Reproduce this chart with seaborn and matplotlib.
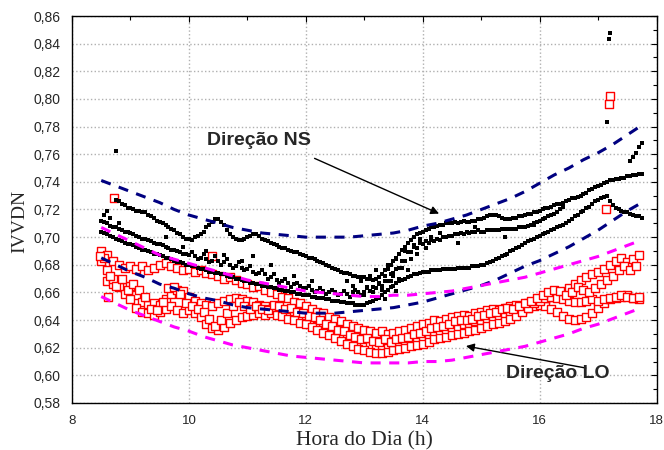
import numpy as np
import pandas as pd
import matplotlib
matplotlib.use("Agg")
import matplotlib.pyplot as plt
from matplotlib.ticker import MultipleLocator, FuncFormatter
import seaborn as sns

# IVVDN x 1000, direcao NS (pontos pretos), uma leitura a cada 3 min
ns1_start = 8.75
ns1 = [727, 726, 724, 723, 721,
       721, 720, 719, 719, 718, 718, 716, 715, 714, 712, 711, 710, 709, 707, 706, 705, 703, 702, 700, 699,
       699, 698, 700, 701, 702, 704, 707, 709, 711, 713, 713, 711, 709, 705, 702, 700, 699, 698, 698, 699,
       700, 701, 702, 702, 701, 699, 698, 697, 696, 695, 694, 693, 692, 692, 691, 690, 689, 689, 688, 687,
       686, 685, 685, 684, 683, 682, 681, 680, 679, 678, 677, 676, 675, 674, 674, 673, 672, 672, 671, 671,
       671, 670, 670, 669, 670, 671, 673, 676, 677, 680, 683, 685, 688, 691, 693, 696, 698, 700, 702, 703,
       704, 705, 706, 707, 707, 708, 709, 709, 710, 710, 710, 711, 710, 711, 712, 711, 711, 712, 712, 713,
       713, 714, 715, 716, 716, 716, 715, 714, 713, 713, 713, 714, 714, 715, 715, 716, 717, 717, 718, 718,
       719, 720, 721, 721, 722, 723, 724, 724, 725, 726, 727, 728, 728, 729, 730, 731, 732, 734, 735, 736,
       737, 738, 739, 740, 741, 741, 742, 742, 743, 743, 744, 744, 745, 745, 746, 746]
ns2_start = 8.5
ns2 = [712, 711, 710, 708, 707, 707, 706, 705, 704, 704,
       703, 702, 701, 700, 699, 699, 698, 697, 696, 695, 695, 694, 693, 692, 691, 691, 690, 689, 688, 688,
       687, 689, 686, 684, 685, 688, 684, 682, 683, 686, 683, 680, 682, 684, 680, 678, 679, 682, 678, 676,
       677, 679, 675, 673, 674, 676, 673, 670, 671, 673, 669, 667, 668, 670, 667, 664, 666, 667, 665, 663,
       663, 665, 662, 660, 661, 663, 661, 659, 660, 662, 660, 658, 659, 661, 659, 657, 660, 662, 660, 658,
       660, 663, 661, 664, 663, 667, 665, 668, 668, 673, 672, 677, 678, 683, 683, 689, 689, 693, 692, 696,
       695, 697, 696, 698, 697, 699, 698, 700, 700, 701, 701, 702, 702, 703, 702, 704, 703, 704, 704, 705,
       704, 704, 705, 705, 705, 705, 705, 706, 706, 706, 706, 706, 706, 707, 707, 707, 708, 709, 710, 711,
       712, 713, 714, 715, 716, 717, 718, 720, 722]
ns3_start = 8.5
ns3 = [704, 703, 702, 701, 700, 699, 698, 697, 696, 695,
       695, 694, 693, 692, 691, 691, 690, 689, 688, 688, 687, 686, 685, 685, 684, 683, 682, 682, 681, 680,
       680, 679, 679, 678, 677, 677, 676, 675, 675, 674, 674, 673, 673, 672, 671, 671, 670, 670, 669, 668,
       668, 667, 667, 666, 666, 665, 665, 664, 664, 663, 663, 662, 662, 661, 661, 660, 660, 659, 659, 658,
       658, 658, 657, 657, 656, 656, 656, 655, 655, 654, 654, 654, 653, 653, 652, 652, 652, 651, 651, 651,
       651, 652, 653, 654, 655, 656, 658, 660, 662, 664, 665, 667, 668, 669, 670, 671, 672, 673, 673, 674,
       675, 675, 675, 676, 676, 676, 676, 677, 677, 677, 677, 677, 678, 678, 678, 678, 678, 679, 679, 679,
       680, 680, 681, 682, 683, 684, 685, 686, 687, 688, 690, 691, 692, 693, 694, 696, 697, 698, 699, 700,
       701, 702, 703, 704, 705, 706, 707, 708, 709, 710, 712, 713, 715, 716, 718, 719, 721, 722, 724, 726,
       727, 728, 729, 730, 726, 723, 721, 720, 719, 718, 718, 717, 716, 715, 715, 714]
# pontos soltos NS
ns_extra_h = [8.55, 8.6, 8.65, 8.8, 9.6, 9.9, 10.3, 10.6, 10.9, 11.1, 11.4, 11.8, 12.1, 12.7, 12.8,
              12.95, 13.0, 13.05, 13.1, 13.15, 13.2, 13.25, 13.3, 13.35, 13.35, 13.4, 13.45, 13.5, 13.55,
              13.55, 13.6, 13.65, 13.7, 13.75, 13.8, 13.85, 13.9, 13.95, 14.05, 14.15, 14.3, 14.6, 14.9,
              15.4, 15.9, 17.55, 17.6, 17.65, 17.7, 17.75, 8.745, 17.21, 17.18, 17.15]
ns_extra_v = [716, 719, 714, 710, 700, 693, 690, 687, 683, 686, 680, 672, 668, 668, 665,
              668, 658, 664, 672, 660, 676, 666, 662, 672, 655, 680, 668, 674, 684,
              661, 670, 678, 690, 676, 684, 694, 688, 699, 692, 700, 703, 696, 707,
              700, 709, 755, 758, 761, 765, 768, 762, 848, 843, 783]

# IVVDN x 1000, direcao LO (quadrados vermelhos), uma leitura a cada 6 min
lo1_start = 8.5
lo1 = [690, 687, 683, 680, 678,
       679, 677, 679, 676, 678, 680, 681, 679, 678, 676,
       677, 675, 676, 674, 673, 672, 670, 671, 669, 667,
       666, 664, 665, 662, 660, 659, 657, 656, 653, 652,
       650, 648, 646, 645, 642, 641, 639, 637, 636, 634,
       633, 632, 631, 632, 630, 631, 632, 633, 634, 636,
       637, 638, 640, 639, 641, 642, 643, 644, 643, 645,
       646, 647, 648, 647, 649, 650, 651, 650, 652, 653,
       654, 655, 657, 658, 660, 663, 666, 669, 671, 673,
       675, 677, 680, 683, 685, 682, 684, 687]
lo2_start = 8.6
lo2 = [668, 666, 667, 664,
       665, 658, 653, 651, 652, 651, 655, 659, 662, 661,
       657, 654, 652, 651, 650, 652, 654, 655, 656, 655,
       654, 653, 651, 650, 648, 647, 646, 644, 643, 641,
       640, 638, 636, 634, 633, 631, 629, 627, 626, 624,
       623, 621, 620, 619, 620, 621, 622, 623, 625, 626,
       628, 629, 630, 632, 633, 634, 635, 637, 638, 639,
       640, 641, 642, 643, 644, 645, 646, 647, 649, 650,
       651, 650, 648, 646, 643, 641, 640, 641, 642, 645,
       649, 652, 655, 656, 657, 658, 656, 655]
lo3_start = 8.5
lo3 = [683, 676, 670, 664, 659,
       655, 649, 646, 645, 644, 646, 648, 650, 647, 645,
       647, 645, 642, 637, 634, 633, 635, 638, 640, 642,
       643, 644, 645, 644, 645, 644, 643, 641, 640, 638,
       637, 635, 633, 631, 629, 627, 625, 623, 621, 619,
       618, 617, 616, 616, 617, 618, 619, 620, 621, 622,
       623, 624, 626, 627, 628, 629, 630, 631, 632, 633,
       634, 636, 637, 638, 639, 641, 643, 646, 649, 652,
       654, 656, 657, 656, 655, 654, 653, 653, 654, 655,
       654, 655, 656, 657, 658, 657, 656, 657]
lo4_start = 8.55
lo4 = [685, 672, 665, 670, 662,
       666, 662, 657, 648, 647, 653, 663, 664, 659, 652,
       650, 648, 646, 641, 636, 640, 645, 650, 653, 650,
       648, 650, 648, 647, 651, 650, 648, 649, 646, 645,
       643, 642, 640, 637, 636, 633, 632, 629, 628, 626,
       627, 625, 624, 626, 624, 626, 627, 628, 630, 631,
       632, 634, 635, 636, 637, 639, 640, 640, 641, 643,
       644, 645, 646, 648, 649, 648, 650, 652, 654, 656,
       658, 660, 662, 661, 658, 660, 664, 662, 660, 663,
       666, 669, 672, 676, 679, 676, 679]
lo_extra_h = [8.72, 17.21, 17.18, 17.13, 10.4, 8.48, 8.61]
lo_extra_v = [728, 802, 796, 720, 686, 686, 657]

# faixas tracejadas, a cada 15 min de 8,5 h a 17,75 h
ns_sup = [741, 737, 733, 729, 725, 720, 716, 713, 710, 707, 705, 703, 702, 701, 700, 700, 700, 700, 701,
          702, 703, 705, 708, 710, 713, 716, 720, 724, 728, 733, 739, 745, 750, 756, 761, 767, 774, 781]
ns_inf = [685, 680, 675, 671, 666, 663, 659, 656, 654, 651, 649, 648, 647, 646, 645, 645, 645, 646, 647,
          648, 649, 651, 653, 656, 659, 662, 665, 669, 674, 679, 683, 688, 693, 699, 705, 712, 719, 725]
lo_sup = [707, 702, 697, 692, 687, 684, 681, 678, 675, 672, 669, 667, 665, 663, 661, 660, 659, 658, 657,
          657, 658, 658, 659, 660, 661, 663, 665, 667, 669, 671, 674, 677, 680, 683, 686, 690, 694, 698]
lo_inf = [657, 652, 647, 643, 639, 635, 632, 628, 625, 622, 620, 618, 616, 614, 613, 612, 611, 610, 609,
          609, 609, 609, 610, 610, 611, 613, 615, 617, 619, 621, 624, 627, 630, 634, 637, 641, 645, 649]


def serie(start, step, vals):
    return pd.DataFrame({"hora": start + step * np.arange(len(vals)),
                         "ivvdn": np.array(vals) / 1000})


def soltos(h, v):
    return pd.DataFrame({"hora": h, "ivvdn": np.array(v) / 1000})


df_ns = pd.concat([serie(ns1_start, 0.05, ns1), serie(ns2_start, 0.05, ns2),
                   serie(ns3_start, 0.05, ns3), soltos(ns_extra_h, ns_extra_v)])
df_lo = pd.concat([serie(lo1_start, 0.1, lo1), serie(lo2_start, 0.1, lo2),
                   serie(lo3_start, 0.1, lo3), serie(lo4_start, 0.1, lo4),
                   soltos(lo_extra_h, lo_extra_v)])

sns.set_style("white")
plt.rcParams["font.family"] = ["Liberation Sans", "DejaVu Sans"]

fig, ax = plt.subplots(figsize=(6.64, 4.5), dpi=100)
fig.subplots_adjust(left=72 / 664, right=656.5 / 664, top=1 - 16 / 450, bottom=1 - 403 / 450)

sns.scatterplot(data=df_lo, x="hora", y="ivvdn", marker="s", s=40, facecolor="white",
                edgecolor="#ff0000", linewidth=1.0, ax=ax, zorder=3)
sns.scatterplot(data=df_ns, x="hora", y="ivvdn", marker="s", s=10, color="black",
                linewidth=0, ax=ax, zorder=4)

band_h = 8.5 + 0.25 * np.arange(len(ns_sup))
for vals, cor in [(ns_sup, "#000080"), (ns_inf, "#000080"), (lo_sup, "#ff00ff"), (lo_inf, "#ff00ff")]:
    sns.lineplot(x=band_h, y=np.array(vals) / 1000, color=cor, lw=2.2, estimator=None,
                 linestyle=(0, (3.3, 2.8)), ax=ax, zorder=5)

ax.set_xlim(8, 18)
ax.set_ylim(0.58, 0.86)
ax.xaxis.set_major_locator(MultipleLocator(2))
ax.xaxis.set_minor_locator(MultipleLocator(1))
ax.yaxis.set_major_locator(MultipleLocator(0.02))
ax.yaxis.set_minor_locator(MultipleLocator(0.01))
ax.yaxis.set_major_formatter(FuncFormatter(lambda v, p: f"{v:.2f}".replace(".", ",")))
ax.xaxis.set_major_formatter(FuncFormatter(lambda v, p: f"{v:.0f}"))
ax.tick_params(which="both", direction="in", top=True, right=True, labelsize=10, color="black")
ax.tick_params(which="major", length=4, width=0.8)
ax.tick_params(which="minor", length=3, width=0.8)
ax.tick_params(axis="y", pad=8)
ax.tick_params(axis="x", pad=9, labelsize=9.5)
ax.grid(True, which="major", linestyle=":", color="#b0b0b0", linewidth=1)
for sp in ax.spines.values():
    sp.set_color("black")
    sp.set_linewidth(1)

ax.set_xlabel("Hora do Dia (h)", family="Liberation Serif", fontsize=15.5)
ax.set_ylabel("IVVDN", family="Liberation Serif", fontsize=14)
ax.xaxis.set_label_coords(0.5, -0.073)
ax.yaxis.set_label_coords(-0.075, 0.47)

ax.text(11.19, 0.770, "Direção NS", fontsize=14, fontweight="bold", ha="center", va="center")
ax.annotate("", xy=(14.28, 0.717), xytext=(12.15, 0.757),
            arrowprops=dict(arrowstyle="-|>", color="black", lw=1, mutation_scale=12, shrinkA=0, shrinkB=0))
ax.text(16.31, 0.601, "Direção LO", fontsize=14, fontweight="bold", ha="center", va="center", zorder=6)
ax.annotate("", xy=(14.74, 0.6212), xytext=(16.79, 0.6053),
            arrowprops=dict(arrowstyle="-|>", color="black", lw=1, mutation_scale=12, shrinkA=0, shrinkB=0))

fig.savefig("out.png", dpi=100)
